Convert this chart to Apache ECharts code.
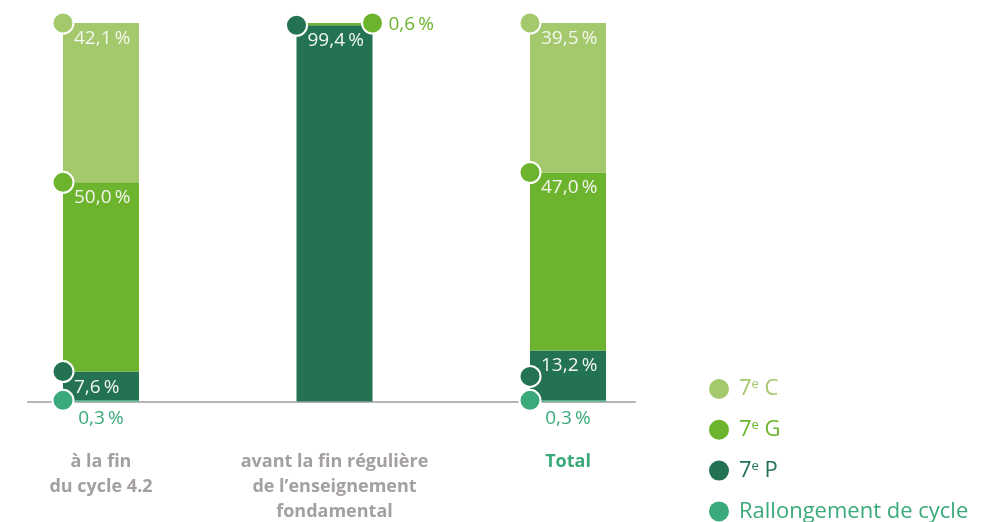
<!DOCTYPE html>
<html>
<head>
<meta charset="utf-8">
<script src="https://cdn.jsdelivr.net/npm/echarts@6/dist/echarts.min.js"></script>
<style>html,body{margin:0;padding:0;background:#fff}#c{width:982px;height:522px}</style>
</head>
<body>
<div id="c"></div>
<script>
// ---- data ----
const categories = ['à la fin\ndu cycle 4.2', 'avant la fin régulière\nde l’enseignement\nfondamental', 'Total'];
const seriesNames = ['7e C', '7e G', '7e P', 'Rallongement de cycle'];
const rallongement = [0.3, null, 0.3];
const p7 = [7.6, 99.4, 13.2];
const g7 = [50.0, 0.6, 47.0];
const c7 = [42.1, null, 39.5];

// ---- style ----
const COL_C = '#a4c96c', COL_G = '#6cb42d', COL_P = '#237352', COL_R = '#3aaa7a';
const FONT = '"Open Sans", sans-serif';
const HALF = 38;

const fmt = v => v.toFixed(1).replace('.', ',') + '\u2009%';

function cum(arrays) {
  return categories.map((_, i) => {
    let s = 0;
    arrays.forEach(a => { if (a[i] != null) s += a[i]; });
    return arrays[arrays.length - 1][i] == null ? null : +s.toFixed(2);
  });
}
const topR = cum([rallongement]);
const topP = cum([rallongement, p7]);
const topG = cum([rallongement, p7, g7]);
const topC = cum([rallongement, p7, g7, c7]);

const insideLabel = {
  show: true, position: 'insideTopLeft', distance: 6, offset: [5, 0],
  color: '#f2f6ee', fontSize: 19, fontFamily: FONT,
  formatter: p => p.value == null ? '' : fmt(p.value)
};

function bar(name, data, color, label) {
  return {
    name, type: 'bar', stack: 'all', barWidth: 76, data,
    itemStyle: { color }, label, silent: true, z: 2
  };
}

function dots(name, data, color) {
  return {
    name, type: 'scatter', data, symbol: 'circle', symbolSize: 21,
    symbolOffset: [-HALF, 0],
    itemStyle: { color, borderColor: '#fff', borderWidth: 2, opacity: 1 },
    z: 5, silent: true
  };
}

const legendItem = (name, color) => ({
  name, icon: 'circle',
  itemStyle: { color },
  textStyle: { color, fontSize: 22, fontFamily: FONT,
    rich: { sup: { color, fontSize: 13, fontFamily: FONT, verticalAlign: 'top', lineHeight: 22 },
            n: { color, fontSize: 22, fontFamily: FONT, lineHeight: 22 } } }
});

const chart = echarts.init(document.getElementById('c'), null, { renderer: 'canvas' });
chart.setOption({
  animation: false,
  legend: {
    orient: 'vertical', left: 704, top: 373, itemWidth: 20, itemHeight: 20, itemGap: 18.8,
    height: 160,
    data: [legendItem(seriesNames[0], COL_C), legendItem(seriesNames[1], COL_G),
           legendItem(seriesNames[2], COL_P), legendItem(seriesNames[3], COL_R)],
    textStyle: { fontSize: 22, fontFamily: FONT, padding: [0, 0, 0, 5] },
    formatter: name => {
      const m = name.match(/^7e (.*)$/);
      return m ? '{n|7}{sup|e}{n| ' + m[1] + '}' : '{n|' + name + '}';
    },
    selectedMode: false
  },
  grid: [
    { left: -15.75, width: 700.5, top: 23, bottom: 120.5, outerBoundsMode: 'none', containLabel: false },
    { left: 28, right: 347, top: 23, bottom: 120.5, outerBoundsMode: 'none', containLabel: false }
  ],
  xAxis: [
    { type: 'category', gridIndex: 0, data: categories.map((c, i) => i === 2 ? { value: c, textStyle: { color: COL_R } } : c),
      axisLine: { show: false }, axisTick: { show: false },
      axisLabel: { interval: 0, margin: 48, fontSize: 18, fontWeight: 'bold', fontFamily: FONT, color: '#a3a09f', lineHeight: 25 } },
    { type: 'category', gridIndex: 1, data: [''],
      axisLine: { show: true, lineStyle: { color: '#b5b5b5', width: 2 } }, axisTick: { show: false }, axisLabel: { show: false } }
  ],
  yAxis: [
    { type: 'value', gridIndex: 0, min: 0, max: 100, show: false },
    { type: 'value', gridIndex: 1, min: 0, max: 100, show: false }
  ],
  series: [
    bar(seriesNames[3], rallongement, COL_R, {
      show: true, position: 'bottom', distance: 8, color: COL_R, fontSize: 19, fontFamily: FONT,
      formatter: p => p.value == null ? '' : fmt(p.value) }),
    bar(seriesNames[2], p7, COL_P, insideLabel),
    bar(seriesNames[1], g7.map((v, i) => i === 1 ? { value: v, label: {
        position: 'right', distance: 16, offset: [0, 0], color: COL_G } } : v), COL_G, insideLabel),
    bar(seriesNames[0], c7, COL_C, insideLabel),
    dots('dotR', topR, COL_R),
    dots('dotP', topP.map((v, i) => i === 2 ? { value: v, symbolOffset: [-HALF, 26] } : v), COL_P),
    dots('dotG', topG.map((v, i) => i === 1 ? { value: v, symbolOffset: [HALF, 0] } : v), COL_G),
    dots('dotC', topC, COL_C)
  ]
});
</script>
</body>
</html>
